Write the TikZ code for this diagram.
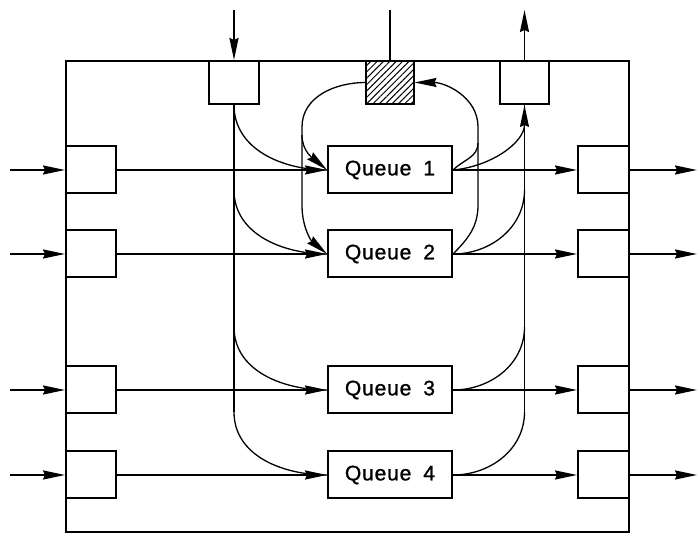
\documentclass[tikz,border=0pt]{standalone}
\usepackage{fontspec}
\setmainfont{Liberation Sans}
\newfontfamily\qfont[LetterSpace=4,FakeBold=1.2]{Liberation Sans}
\usetikzlibrary{arrows.meta,patterns.meta}
\begin{document}
\begin{tikzpicture}[x=1pt,y=1pt,
  box/.style={draw,line width=2pt,minimum width=50pt,minimum height=47pt,inner sep=0pt},
  queue/.style={draw,line width=2pt,minimum width=124pt,minimum height=47pt,inner sep=0pt,
     font=\qfont\fontsize{21}{24}\selectfont},
  flow/.style={line width=1.9pt},
  thinline/.style={line width=1.3pt},
  tip/.style={-{Stealth[length=22pt,width=9pt,inset=2pt]}}
]
\useasboundingbox (0,0) rectangle (697,534);
\draw[line width=2.6pt] (66,2) rectangle (629,473);

% top boxes
\node[box,minimum height=43pt] (in) at (234,451.5) {};
\node[box,minimum height=43pt,minimum width=48pt,
      pattern={Lines[angle=45,distance=4.5pt,line width=1pt]}] (mem) at (390,451.5) {};
\node[box,minimum height=43pt,minimum width=49pt] (out) at (524.5,451.5) {};

\coordinate (ti) at (234,524);
\coordinate (tm) at (390,524);
\coordinate (to) at (524.5,524);
\draw[flow,tip] (ti) -- (in.north);
\draw[flow] (tm) -- (mem.north);
\draw[flow,tip] (out.north) -- (to);

% rows
\foreach \i/\y in {1/364,2/280,3/144,4/59}{
  \node[queue] (q\i) at (390,\y) {Queue\hspace{12pt}\i};
  \node[box] (L\i) at (91,\y) {};
  \node[box,minimum width=51pt] (R\i) at (603.5,\y) {};
  \coordinate (l\i) at (10,\y);
  \coordinate (r\i) at (697,\y);
  \draw[flow,tip] (l\i) -- (L\i.west);
  \draw[flow,tip] (L\i.east) -- (q\i.west);
  \draw[flow,tip] (q\i.east) -- (R\i.west);
  \draw[flow,tip] (R\i.east) -- (r\i);
}

% left distribution
\coordinate (a2) at (234,344);
\coordinate (a3) at (234,207);
\coordinate (a4) at (234,122);
\draw[thinline] (in.south) -- (a4);
\draw[thinline] (in.south) to[out=-90,in=180] (q1.west);
\draw[thinline] (a2) to[out=-90,in=180] (q2.west);
\draw[thinline] (a3) to[out=-90,in=180] (q3.west);
\draw[thinline] (a4) to[out=-90,in=180] (q4.west);

% right collection
\coordinate (b2) at (524.5,344);
\coordinate (b3) at (524.5,207);
\coordinate (b4) at (524.5,122);
\draw[thinline] (out.south) -- (b4);
\draw[thinline,tip] (q1.east) to[out=5,in=-90] (out.south);
\draw[thinline] (q2.east) to[out=0,in=-90] (b2);
\draw[thinline] (q3.east) to[out=0,in=-90] (b3);
\draw[thinline] (q4.east) to[out=0,in=-90] (b4);

% inner loop, left
\coordinate (c1) at (302,407);
\coordinate (c1b) at (302,399);
\coordinate (c2) at (302,329);
\draw[thinline] (mem.west) to[out=180,in=90] (c1) -- (c2);
\draw[thinline,tip] (c1b) to[out=-90,in=140] (q1.west);
\draw[thinline,tip] (c2) to[out=-90,in=140] (q2.west);

% inner loop, right
\coordinate (d1) at (478,407);
\coordinate (d1b) at (478,391);
\coordinate (d2) at (478,329);
\draw[thinline,tip] (d2) -- (d1) to[out=90,in=0] (mem.east);
\draw[thinline] (q1.east) to[out=45,in=-90] (d1b);
\draw[thinline] (q2.east) to[out=45,in=-90] (d2);
\end{tikzpicture}
\end{document}
